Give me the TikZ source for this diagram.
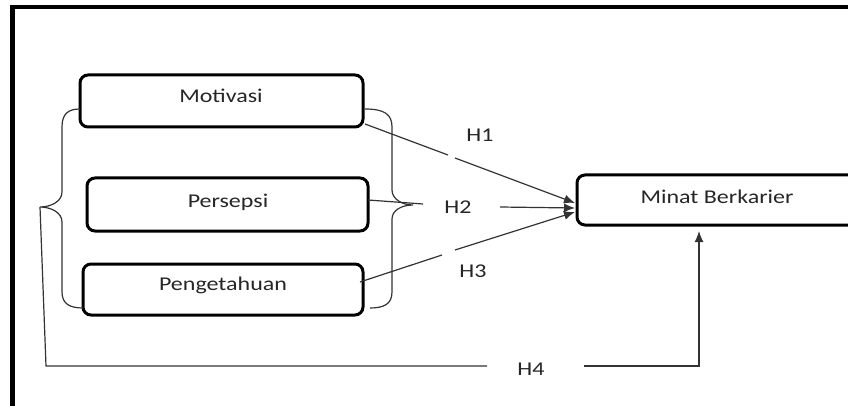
\documentclass[tikz,border=0pt]{standalone}
\usepackage{fontspec}
\setmainfont{Carlito}[FakeStretch=1.23]
\usetikzlibrary{arrows.meta}
\begin{document}
\begin{tikzpicture}[x=1pt,y=-1pt,
  box/.style={draw=black, line width=3pt, rounded corners=8pt, inner sep=0pt, fill=white},
  txt/.style={font=\fontsize{19.5}{23}\selectfont, text=black!85, inner sep=0pt},
  conn/.style={draw=black!80, line width=1.2pt},
  arr/.style={conn, -{Latex[length=11pt,width=9pt]}},
  frame/.style={draw=black, line width=4.5pt}]
\useasboundingbox (0,0) rectangle (848,406);
\clip (0,0) rectangle (848,406);
\fill[white] (0,0) rectangle (848,406);
% frame
\draw[frame] (12.5,420) -- (12.5,7) -- (860,7);
% boxes
\node[box, minimum width=283pt, minimum height=52pt] (mot) at (221.5,101) {};
\node[box, minimum width=281pt, minimum height=53pt] (per) at (227.5,204.5) {};
\node[box, minimum width=280pt, minimum height=51pt] (pen) at (223,289.5) {};
\node[box, minimum width=280pt, minimum height=50pt] (min) at (717,200) {};
% texts
\node[txt] (motT) at (221,96) {Motivasi};
\node[txt] (perT) at (228,202) {Persepsi};
\node[txt] (penT) at (223,285) {Pengetahuan};
\node[txt] (minT) at (717,197) {Minat Berkarier};
% braces
\draw[conn] (80,109) .. controls (68,109) and (62,114) .. (62,127) -- (62,192)
  .. controls (62,202) and (50,207) .. (40,207)
  .. controls (50,207) and (62,212) .. (62,222) -- (62,292)
  .. controls (62,304) and (70,308) .. (83,308);
\draw[conn] (365,109) .. controls (384,109) and (392,114) .. (392,127) -- (392,190)
  .. controls (392,199) and (402,205) .. (413,205)
  .. controls (402,205) and (392,210) .. (392,219) -- (392,292)
  .. controls (392,304) and (384,308) .. (370,308);
% coordinates
\coordinate (s1) at (365,124);
\coordinate (g1a) at (448,155);
\coordinate (g1b) at (455,158);
\coordinate (t1) at (575,203);
\coordinate (s2) at (368,200);
\coordinate (g2a) at (423,204);
\coordinate (g2b) at (500,207);
\coordinate (t2) at (575,208);
\coordinate (s3) at (360,282);
\coordinate (g3a) at (442,255);
\coordinate (g3b) at (455,250);
\coordinate (t3) at (575,212);
\coordinate (s4) at (40,207);
\coordinate (c4a) at (46,366);
\coordinate (g4a) at (487,366);
\coordinate (g4b) at (584,366);
\coordinate (c4b) at (699,366);
\coordinate (t4) at (699,231);
% connectors
\draw[conn] (s1) -- (g1a);
\draw[arr] (g1b) -- (t1);
\draw[conn] (s2) -- (g2a);
\draw[arr] (g2b) -- (t2);
\draw[conn] (s3) -- (g3a);
\draw[arr] (g3b) -- (t3);
\draw[conn] (s4) -- (c4a) -- (g4a);
\draw[arr] (g4b) -- (c4b) -- (t4);
% labels
\node[txt] (h1) at (480,135) {H1};
\node[txt] (h2) at (458,207) {H2};
\node[txt] (h3) at (473,271) {H3};
\node[txt] (h4) at (531,369) {H4};
\end{tikzpicture}
\end{document}
